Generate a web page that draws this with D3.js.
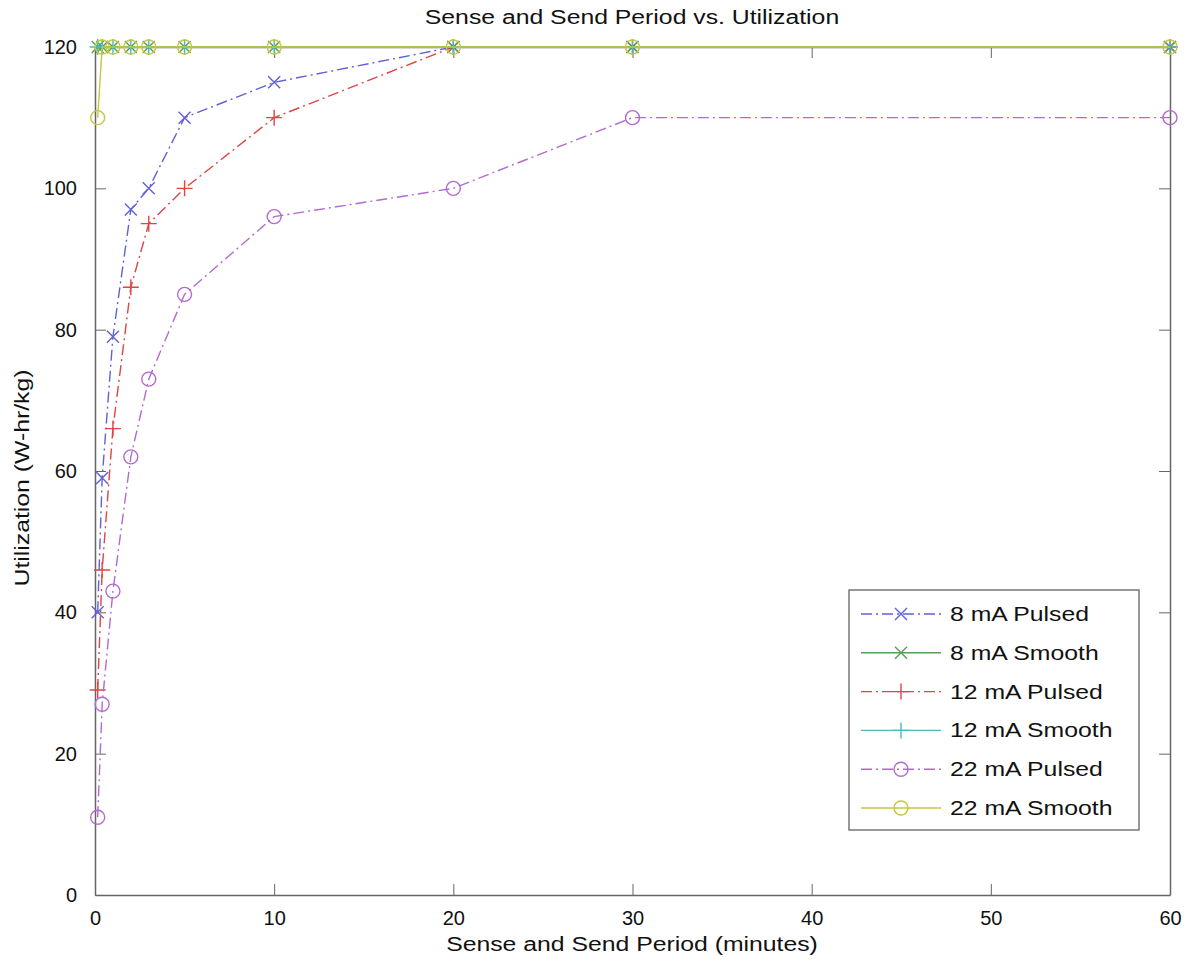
<!DOCTYPE html>
<html>
<head>
<meta charset="utf-8">
<script src="https://cdnjs.cloudflare.com/ajax/libs/d3/7.8.5/d3.min.js"></script>
<style>
  body { margin: 0; background: #fff; }
  svg text { font-family: "Liberation Sans", Arial, sans-serif; fill: #111; }
  .axis path, .axis line { stroke: #666; }
</style>
</head>
<body>
<svg class="chart"></svg>
<script>
// sense and send period in minutes
var periods = [0.15, 0.4, 1, 2, 3, 5, 10, 20, 30, 60];

var pulsed8 = [40, 59, 79, 97, 100, 110, 115, 120, 120, 120];
var smooth8 = [120, 120, 120, 120, 120, 120, 120, 120, 120, 120];
var pulsed12 = [29, 46, 66, 86, 95, 100, 110, 120, 120, 120];
var smooth12 = [120, 120, 120, 120, 120, 120, 120, 120, 120, 120];
var pulsed22 = [11, 27, 43, 62, 73, 85, 96, 100, 110, 110];
var smooth22 = [110, 120, 120, 120, 120, 120, 120, 120, 120, 120];

var seriesNames = ["8 mA Pulsed", "8 mA Smooth", "12 mA Pulsed", "12 mA Smooth", "22 mA Pulsed", "22 mA Smooth"];
var seriesValues = [pulsed8, smooth8, pulsed12, smooth12, pulsed22, smooth22];
var xTicks = [0, 10, 20, 30, 40, 50, 60];
var yTicks = [0, 20, 40, 60, 80, 100, 120];

var colors = ["#6060d8", "#55a055", "#e04444", "#45bcbc", "#b26ad0", "#c6c640"];
var markers = ["x", "x", "+", "+", "o", "o"];
var dashes = ["11,4,2,4", null, "11,4,2,4", null, "11,4,2,4", null];

var margin = {top: 47, right: 16, bottom: 67, left: 95},
    W = 1186, H = 962,
    width = W - margin.left - margin.right,
    height = H - margin.top - margin.bottom;

var svg = d3.select(".chart").attr("width", W).attr("height", H);
var chart = svg.append("g")
    .attr("transform", "translate(" + margin.left + "," + margin.top + ")");

var x = d3.scaleLinear().domain([0, 60]).range([0, width]);
var y = d3.scaleLinear().domain([0, 120]).range([height, 0]);

// box + inward ticks
chart.append("g").attr("class", "axis")
    .attr("transform", "translate(0," + height + ")")
    .call(d3.axisBottom(x).tickValues(xTicks).tickSizeInner(-11).tickSizeOuter(0).tickPadding(16))
    .call(function(g) { g.selectAll("text").style("font-size", "20px"); });
chart.append("g").attr("class", "axis")
    .call(d3.axisTop(x).tickValues(xTicks).tickSizeInner(-11).tickSizeOuter(0).tickFormat(""));
chart.append("g").attr("class", "axis")
    .call(d3.axisLeft(y).tickValues(yTicks).tickSizeInner(-11).tickSizeOuter(0).tickPadding(18))
    .call(function(g) { g.selectAll("text").style("font-size", "20px"); });
chart.append("g").attr("class", "axis")
    .attr("transform", "translate(" + width + ",0)")
    .call(d3.axisRight(y).tickValues(yTicks).tickSizeInner(-11).tickSizeOuter(0).tickFormat(""));
chart.selectAll(".axis path").attr("stroke-width", 1.5);

var line = d3.line()
    .x(function(d) { return x(d[0]); })
    .y(function(d) { return y(d[1]); });

function drawMarker(g, type, color, cx, cy) {
  var s = 6;
  if (type === "o") {
    g.append("circle").attr("cx", cx).attr("cy", cy).attr("r", 7)
      .attr("fill", "none").attr("stroke", color).attr("stroke-width", 1.4);
  } else if (type === "x") {
    g.append("path").attr("d", "M" + (cx - s) + "," + (cy - s) + "L" + (cx + s) + "," + (cy + s) +
        "M" + (cx - s) + "," + (cy + s) + "L" + (cx + s) + "," + (cy - s))
      .attr("stroke", color).attr("stroke-width", 1.4);
  } else {
    s = 8;
    g.append("path").attr("d", "M" + (cx - s) + "," + cy + "L" + (cx + s) + "," + cy +
        "M" + cx + "," + (cy - s) + "L" + cx + "," + (cy + s))
      .attr("stroke", color).attr("stroke-width", 1.4);
  }
}

seriesValues.forEach(function(vals, i) {
  var pts = periods.map(function(p, j) { return [p, vals[j]]; });
  var g = chart.append("g");
  g.append("path").datum(pts)
    .attr("d", line)
    .attr("fill", "none")
    .attr("stroke", colors[i])
    .attr("stroke-width", 1.4)
    .attr("stroke-dasharray", dashes[i]);
  pts.forEach(function(d) { drawMarker(g, markers[i], colors[i], x(d[0]), y(d[1])); });
});

// the original text is drawn wide, so stretch it horizontally
function wideText(parent, tx, ty, rot, anchor, str) {
  return parent.append("text")
    .attr("transform", "translate(" + tx + "," + ty + ")" + (rot ? " rotate(" + rot + ")" : "") + " scale(1.18,1)")
    .attr("text-anchor", anchor)
    .style("font-size", "21px")
    .text(str);
}

// legend
var lg = svg.append("g").attr("transform", "translate(849,590)");
lg.append("rect").attr("width", 290).attr("height", 240)
  .attr("fill", "#fff").attr("stroke", "#777").attr("stroke-width", 1.5);
seriesNames.forEach(function(name, i) {
  var cy = 24 + i * 38.8;
  lg.append("line").attr("x1", 12).attr("x2", 92).attr("y1", cy).attr("y2", cy)
    .attr("stroke", colors[i]).attr("stroke-width", 1.4).attr("stroke-dasharray", dashes[i]);
  drawMarker(lg, markers[i], colors[i], 52, cy);
  wideText(lg, 101, cy + 7, 0, "start", name);
});

// titles
wideText(svg, 632, 24, 0, "middle", "Sense and Send Period vs. Utilization");
wideText(svg, 632, 951, 0, "middle", "Sense and Send Period (minutes)");
wideText(svg, 29, 478, -90, "middle", "Utilization (W-hr/kg)");
</script>
</body>
</html>
